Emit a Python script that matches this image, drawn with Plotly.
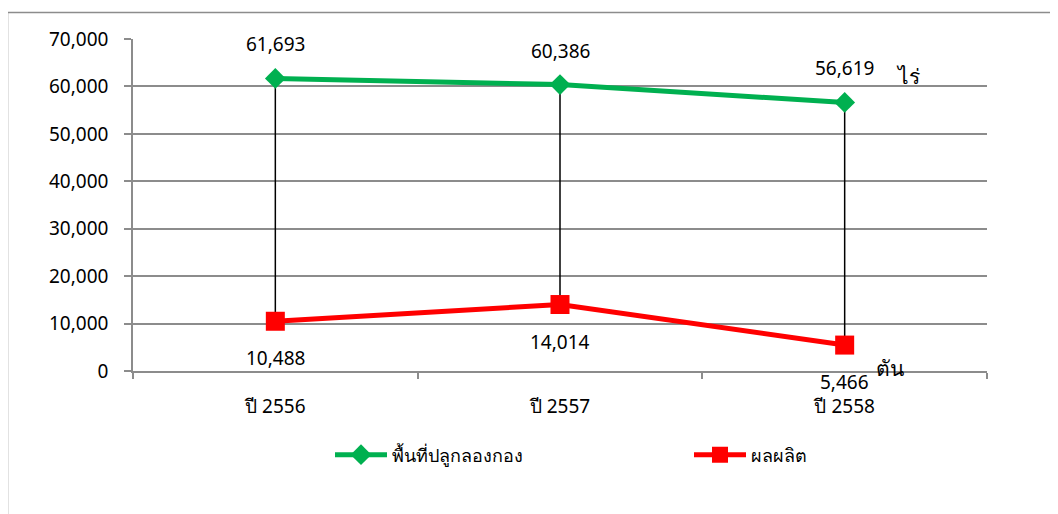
import plotly.graph_objects as go

categories = ["ปี 2556", "ปี 2557", "ปี 2558"]
area_rai = [61693, 60386, 56619]
output_ton = [10488, 14014, 5466]
series_names = ["พื้นที่ปลูกลองกอง", "ผลผลิต"]
y_ticks = [0, 10000, 20000, 30000, 40000, 50000, 60000, 70000]

FONT = "Tahoma, 'Noto Sans', 'DejaVu Sans', sans-serif"
GREEN = "#00B050"
RED = "#FF0000"
GRID = "#8c8c8c"
FS = 19

fig = go.Figure()

# high-low lines
hx, hy = [], []
for c, g, r in zip(categories, area_rai, output_ton):
    hx += [c, c, None]
    hy += [g, r, None]
fig.add_trace(go.Scatter(x=hx, y=hy, mode="lines", line=dict(color="black", width=1.5),
                         showlegend=False, hoverinfo="skip"))

fig.add_trace(go.Scatter(x=categories, y=area_rai, mode="lines+markers", name=series_names[0],
                         line=dict(color=GREEN, width=5), legend="legend",
                         marker=dict(symbol="diamond", size=16, color=GREEN)))
fig.add_trace(go.Scatter(x=categories, y=output_ton, mode="lines+markers", name=series_names[1],
                         line=dict(color=RED, width=5), legend="legend2",
                         marker=dict(symbol="square", size=19, color=RED)))

annotations = []
for c, v in zip(categories, area_rai):
    annotations.append(dict(x=c, y=v, text=f"{v:,}", showarrow=False, yshift=34,
                            font=dict(size=FS, color="black", family=FONT)))
for c, v in zip(categories, output_ton):
    annotations.append(dict(x=c, y=v, text=f"{v:,}", showarrow=False, yshift=-37,
                            font=dict(size=FS, color="black", family=FONT)))

# page has an 8px body margin; compensate
OFF = 8
W, H = 1058 - OFF, 514 - OFF
L, T = 133 - OFF, 39 - OFF
R = 1058 - 987
B = 514 - 371
pw, ph = W - L - R, H - T - B


def px(x):
    return (x - OFF - L) / pw


def py(y):
    return (H - B - (y - OFF)) / ph


annotations.append(dict(xref="paper", yref="paper", x=px(908), y=py(76), text="ไร่", showarrow=False,
                        xanchor="center", yanchor="middle",
                        font=dict(size=21, color="black", family=FONT)))
annotations.append(dict(xref="paper", yref="paper", x=px(890), y=py(368), text="ตัน", showarrow=False,
                        xanchor="center", yanchor="middle",
                        font=dict(size=21, color="black", family=FONT)))

shapes = [
    dict(type="line", xref="paper", yref="paper", x0=px(7.5), x1=px(7.5), y0=py(12.5), y1=-1,
         line=dict(color=GRID, width=1.5)),
    dict(type="line", xref="paper", yref="paper", x0=px(7.5), x1=1.2, y0=py(12.5), y1=py(12.5),
         line=dict(color=GRID, width=1.5)),
]

leg_common = dict(orientation="h", xanchor="left", yanchor="middle", y=py(455),
                  itemwidth=52, font=dict(size=18, family=FONT), bgcolor="rgba(0,0,0,0)")

fig.update_layout(
    width=W, height=H,
    margin=dict(l=L, r=R, t=T, b=B),
    paper_bgcolor="white", plot_bgcolor="white",
    font=dict(family=FONT, size=FS, color="black"),
    annotations=annotations,
    shapes=shapes,
    legend=dict(x=px(330), **leg_common),
    legend2=dict(x=px(689), **leg_common),
    showlegend=True,
)
fig.update_xaxes(type="category", tickson="boundaries", ticks="outside", ticklen=6,
                 tickcolor=GRID, tickwidth=1.5, showline=True, linecolor=GRID, linewidth=1.5,
                 showgrid=False, ticklabelstandoff=17, tickfont=dict(size=FS),
                 range=[-0.5, 2.5])
fig.update_yaxes(range=[0, 70000], tickvals=y_ticks, ticktext=[f"{v:,}" for v in y_ticks],
                 showgrid=True, gridcolor=GRID, gridwidth=1.5, ticks="outside", ticklen=7,
                 tickcolor=GRID, tickwidth=1.5, showline=True, linecolor=GRID, linewidth=1.5,
                 zeroline=False, tickfont=dict(size=FS), ticklabelstandoff=12)

fig.write_html("out.html")
